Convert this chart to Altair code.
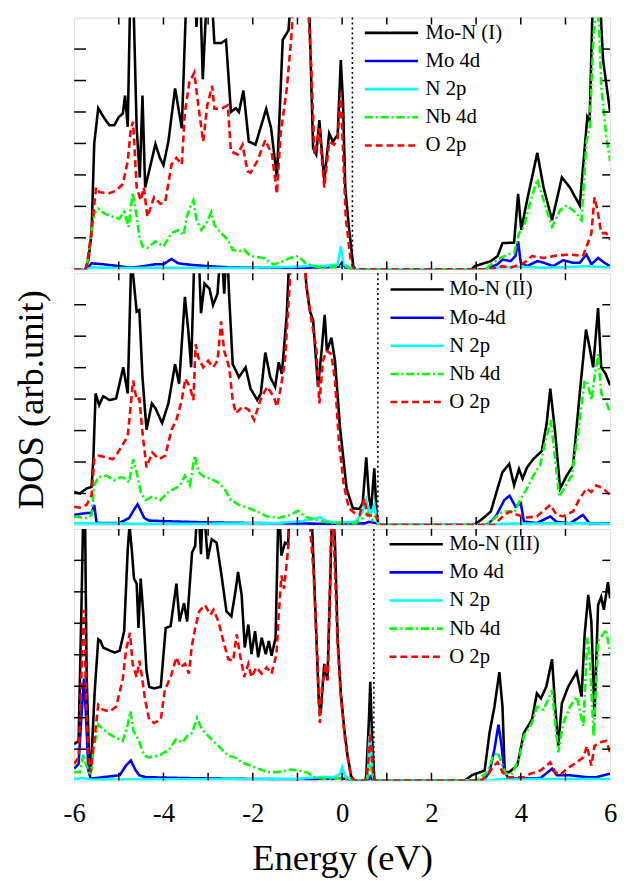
import altair as alt
import pandas as pd

FONT = "Times New Roman, Liberation Serif, Times, serif"

# ---------------- data (Energy eV, DOS arb. unit) ----------------
p1_labels = ["Mo-N (I)", "Mo 4d", "N 2p", "Nb 4d", "O 2p"]
p2_labels = ["Mo-N (II)", "Mo-4d", "N 2p", "Nb 4d", "O 2p"]
p3_labels = ["Mo-N (III)", "Mo 4d", "N 2p", "Nb 4d", "O 2p"]

fermi_levels = [0.23, 0.80, 0.71]

p1_total = [(-6.0,0),(-5.75,0),(-5.68,0.3),(-5.61,1.15),(-5.55,4.0),(-5.46,5.12),(-5.32,4.79),(-5.21,4.58),(-5.10,4.58),(-5.0,4.84),(-4.91,4.95),(-4.86,5.52),(-4.80,4.53),(-4.74,9),(-4.68,9),(-4.60,4.48),(-4.53,2.92),(-4.47,5.52),(-4.41,2.6),(-4.33,3.07),(-4.18,3.98),(-4.08,3.54),(-4.0,3.31),(-3.89,4.06),(-3.74,5.75),(-3.59,4.48),(-3.48,9),(-3.30,9),(-3.26,7.7),(-3.22,9),(-3.18,9),(-3.12,6.04),(-3.02,9),(-2.93,9),(-2.86,7.19),(-2.71,7.19),(-2.60,7.29),(-2.49,5.0),(-2.38,5.12),(-2.31,5.0),(-2.21,5.68),(-2.09,4.06),(-1.94,3.96),(-1.83,4.48),(-1.70,5.10),(-1.59,4.48),(-1.46,2.92),(-1.33,7.29),(-1.20,7.6),(-1.13,9),(-0.80,9),(-0.74,8.5),(-0.65,3.85),(-0.58,3.65),(-0.51,4.74),(-0.40,2.81),(-0.29,4.32),(-0.21,4.06),(-0.10,4.27),(-0.03,6.65),(0.02,5.31),(0.07,2.6),(0.15,1.35),(0.25,0.1),(0.3,0),(2.9,0),(2.97,0.1),(3.33,0.26),(3.48,0.42),(3.59,0.83),(3.85,0.85),(3.94,2.4),(4.01,1.25),(4.14,2.19),(4.37,3.70),(4.51,2.6),(4.70,1.56),(4.92,2.92),(5.10,2.6),(5.32,2.03),(5.49,4.84),(5.54,4.69),(5.62,9),(5.76,9),(5.84,6.67),(6.0,5.0)]
p1_mo4d = [(-6.0,0),(-5.72,0),(-5.61,0.19),(-5.35,0.16),(-4.99,0.1),(-4.77,0.05),(-4.54,0.08),(-4.18,0.16),(-4.0,0.16),(-3.82,0.33),(-3.67,0.19),(-3.37,0.14),(-3.0,0.1),(-2.64,0.07),(-1.9,0.05),(-0.8,0.05),(-0.07,0.08),(-0.01,0.2),(0.08,0.05),(0.25,0),(3.2,0),(3.48,0.16),(3.59,0.31),(3.77,0.26),(3.88,0.42),(3.94,0.89),(4.0,0.21),(4.14,0.1),(4.37,0.26),(4.51,0.21),(4.73,0.1),(4.95,0.29),(5.17,0.21),(5.32,0.21),(5.47,0.47),(5.58,0.16),(5.73,0.36),(5.87,0.21),(6.0,0.1)]
p1_n2p = [(-6.0,0),(-5.72,0),(-5.6,0.06),(-5.0,0.04),(-4.0,0.05),(-3.0,0.04),(-2.0,0.05),(-1.0,0.08),(-0.7,0.12),(-0.45,0.1),(-0.1,0.15),(-0.03,0.73),(0.03,0.15),(0.15,0.08),(0.25,0),(3.3,0),(3.5,0.06),(4.0,0.08),(4.5,0.05),(5.0,0.07),(5.5,0.1),(6.0,0.06)]
p1_nb4d = [(-6.0,0),(-5.75,0),(-5.72,0.05),(-5.61,1.15),(-5.55,1.77),(-5.46,1.93),(-5.32,1.77),(-5.13,1.67),(-4.99,1.61),(-4.88,1.82),(-4.78,1.35),(-4.69,2.45),(-4.61,1.77),(-4.54,1.04),(-4.47,0.73),(-4.36,0.68),(-4.18,0.89),(-4.0,0.73),(-3.82,1.15),(-3.67,1.25),(-3.55,1.09),(-3.48,1.67),(-3.40,1.98),(-3.33,2.19),(-3.26,1.56),(-3.15,1.25),(-3.04,1.46),(-2.93,1.82),(-2.86,1.41),(-2.71,1.15),(-2.56,0.94),(-2.45,0.62),(-2.31,0.57),(-2.20,0.62),(-2.05,0.42),(-1.76,0.36),(-1.54,0.16),(-1.39,0.21),(-1.17,0.36),(-0.98,0.42),(-0.83,0.21),(-0.65,0.1),(-0.43,0.05),(-0.07,0.1),(0.08,0.08),(0.25,0),(3.2,0),(3.48,0.31),(3.70,0.47),(3.85,0.52),(3.96,1.15),(4.07,1.35),(4.22,2.19),(4.37,2.86),(4.51,2.19),(4.70,1.35),(4.88,1.88),(5.03,2.03),(5.25,1.77),(5.36,1.56),(5.47,4.06),(5.54,4.48),(5.63,7.5),(5.70,8.3),(5.75,7.8),(5.80,5.83),(5.91,4.27),(6.0,3.44)]
p1_o2p = [(-6.0,0),(-5.75,0),(-5.72,0.1),(-5.61,1.2),(-5.51,2.6),(-5.43,2.45),(-5.21,2.42),(-5.06,2.5),(-4.91,2.71),(-4.80,3.44),(-4.73,4.48),(-4.68,4.69),(-4.60,2.6),(-4.51,2.19),(-4.44,2.6),(-4.36,1.67),(-4.21,2.29),(-4.07,2.08),(-3.96,2.14),(-3.82,3.33),(-3.71,3.54),(-3.59,3.33),(-3.52,5.0),(-3.42,5.94),(-3.31,6.25),(-3.22,5.21),(-3.11,4.06),(-3.02,5.21),(-2.91,5.83),(-2.86,5.1),(-2.71,5.1),(-2.56,5.21),(-2.49,3.75),(-2.34,3.65),(-2.23,3.96),(-2.12,3.12),(-2.05,3.07),(-1.90,3.44),(-1.72,4.11),(-1.57,3.65),(-1.46,2.4),(-1.38,4.27),(-1.24,5.73),(-1.13,7.5),(-1.08,9),(-0.78,9),(-0.74,7.8),(-0.69,6.35),(-0.62,3.65),(-0.51,4.48),(-0.40,2.6),(-0.29,4.06),(-0.18,3.96),(-0.10,4.17),(-0.03,5.6),(0.02,3.75),(0.08,1.67),(0.19,0.31),(0.25,0.05),(0.3,0),(3.3,0),(3.59,0.1),(3.77,0.05),(4.07,0.2),(4.25,0.42),(4.51,0.36),(4.80,0.44),(5.10,0.47),(5.39,0.42),(5.50,0.83),(5.58,1.15),(5.65,2.29),(5.73,1.77),(5.80,1.15),(5.91,1.15),(6.0,0.94)]

p2_total = [(-6.0,1.05),(-5.87,1.0),(-5.72,1.16),(-5.61,1.21),(-5.57,2.09),(-5.52,4.18),(-5.44,3.81),(-5.35,4.09),(-5.21,3.97),(-5.06,4.02),(-4.95,4.70),(-4.90,5.01),(-4.80,4.18),(-4.73,8.0),(-4.69,8.1),(-4.60,6.78),(-4.54,6.83),(-4.47,4.70),(-4.38,3.03),(-4.26,3.86),(-4.18,3.71),(-4.03,3.24),(-3.89,3.86),(-3.74,5.11),(-3.65,4.49),(-3.52,7.25),(-3.45,6.26),(-3.38,5.01),(-3.30,9),(-3.22,9),(-3.16,6.73),(-3.08,7.67),(-2.97,7.51),(-2.89,6.99),(-2.79,7.35),(-2.71,9),(-2.64,7.35),(-2.58,9),(-2.53,7.30),(-2.45,5.11),(-2.31,4.70),(-2.16,5.01),(-2.05,4.33),(-1.90,3.97),(-1.82,4.18),(-1.72,5.48),(-1.61,4.70),(-1.50,4.39),(-1.42,5.17),(-1.35,4.80),(-1.24,6.68),(-1.17,9),(-0.87,9),(-0.80,7.6),(-0.72,6.78),(-0.65,6.52),(-0.54,4.39),(-0.46,5.53),(-0.39,6.68),(-0.34,5.53),(-0.24,5.95),(-0.16,5.22),(-0.05,3.14),(0.10,1.16),(0.24,0.53),(0.39,0.51),(0.46,0.7),(0.54,2.15),(0.60,0.9),(0.65,0.5),(0.72,1.80),(0.77,0.4),(0.80,0.05),(0.85,0),(2.95,0),(3.12,0.17),(3.33,0.43),(3.48,1.16),(3.59,1.68),(3.74,1.94),(3.85,1.26),(3.96,1.78),(4.04,1.47),(4.14,1.83),(4.28,2.09),(4.47,2.35),(4.58,3.24),(4.66,4.33),(4.77,2.93),(4.88,1.16),(5.03,1.57),(5.17,1.89),(5.32,4.18),(5.46,6.21),(5.54,5.64),(5.62,5.01),(5.73,6.89),(5.80,5.01),(5.90,4.80),(6.0,4.44)]
p2_mo4d = [(-6.0,0.32),(-5.72,0.38),(-5.61,0.38),(-5.55,0.64),(-5.50,0.1),(-5.46,0.06),(-4.99,0.06),(-4.77,0.22),(-4.64,0.53),(-4.58,0.66),(-4.43,0.22),(-4.33,0.14),(-3.74,0.11),(-3.0,0.08),(-1.9,0.06),(-0.5,0.04),(0.5,0.05),(0.6,0.1),(0.8,0.05),(0.85,0),(3.2,0),(3.26,0.02),(3.44,0.27),(3.63,0.79),(3.75,0.93),(3.88,0.58),(4.0,0.69),(4.07,0.11),(4.36,0.06),(4.66,0.27),(4.80,0.1),(5.10,0.05),(5.39,0.32),(5.54,0.05),(6.0,0.05)]
p2_n2p = [(-6.0,0.05),(-5.6,0.05),(-4.6,0.04),(-3.0,0.04),(-1.5,0.06),(-0.9,0.12),(-0.7,0.18),(-0.5,0.25),(-0.4,0.15),(-0.2,0.08),(0.3,0.1),(0.45,0.4),(0.54,0.79),(0.62,0.3),(0.72,0.64),(0.78,0.1),(0.83,0),(3.3,0),(3.6,0.04),(4.5,0.05),(5.5,0.05),(6.0,0.04)]
p2_nb4d = [(-6.0,0.27),(-5.72,0.22),(-5.61,0.32),(-5.55,1.26),(-5.46,1.52),(-5.28,1.57),(-5.10,1.42),(-4.95,1.52),(-4.84,1.47),(-4.77,1.36),(-4.68,2.09),(-4.60,1.68),(-4.51,1.05),(-4.40,0.79),(-4.25,0.90),(-4.07,0.79),(-3.89,1.05),(-3.74,1.16),(-3.63,1.26),(-3.52,1.57),(-3.41,1.26),(-3.30,2.20),(-3.22,1.68),(-3.08,1.52),(-2.93,1.47),(-2.79,1.36),(-2.64,1.16),(-2.49,0.79),(-2.31,0.64),(-2.12,0.55),(-1.90,0.43),(-1.68,0.27),(-1.42,0.22),(-1.17,0.32),(-0.98,0.45),(-0.84,0.27),(-0.62,0.17),(-0.43,0.11),(-0.21,0.06),(0.3,0.05),(0.46,0.22),(0.57,0.38),(0.68,0.15),(0.76,0.3),(0.83,0),(3.2,0),(3.33,0.11),(3.55,0.38),(3.70,0.43),(3.85,0.38),(4.0,0.84),(4.14,1.16),(4.28,1.57),(4.43,1.89),(4.56,2.72),(4.67,3.34),(4.77,2.09),(4.86,0.90),(4.99,1.21),(5.14,1.57),(5.28,2.93),(5.43,4.59),(5.50,4.49),(5.58,3.97),(5.65,4.70),(5.73,5.43),(5.80,4.18),(5.90,3.97),(6.0,3.55)]
p2_o2p = [(-6.0,0.58),(-5.87,0.55),(-5.72,0.64),(-5.61,0.95),(-5.55,2.09),(-5.46,2.2),(-5.28,2.15),(-5.13,2.09),(-5.02,2.30),(-4.91,2.56),(-4.80,2.82),(-4.73,3.86),(-4.68,4.59),(-4.60,3.97),(-4.54,4.02),(-4.47,2.93),(-4.38,1.83),(-4.25,2.30),(-4.10,2.09),(-3.96,2.20),(-3.82,3.03),(-3.71,3.34),(-3.59,3.97),(-3.51,4.65),(-3.41,4.39),(-3.33,3.97),(-3.28,5.74),(-3.22,5.32),(-3.11,5.01),(-3.0,5.22),(-2.89,5.01),(-2.79,5.22),(-2.71,6.47),(-2.64,5.53),(-2.53,5.01),(-2.45,3.97),(-2.38,3.55),(-2.23,3.76),(-2.09,3.66),(-1.97,3.34),(-1.83,3.97),(-1.68,4.39),(-1.53,4.07),(-1.46,3.76),(-1.37,4.39),(-1.28,5.22),(-1.18,7.51),(-1.13,9),(-0.87,9),(-0.80,7.6),(-0.69,6.52),(-0.58,5.64),(-0.51,3.86),(-0.43,5.22),(-0.35,5.53),(-0.24,5.43),(-0.16,4.59),(-0.07,2.61),(0.04,1.26),(0.15,0.53),(0.26,0.40),(0.39,0.32),(0.50,0.84),(0.57,0.3),(0.68,0.3),(0.76,0.3),(0.83,0),(3.4,0),(3.63,0.32),(3.77,0.43),(3.92,0.32),(4.14,0.24),(4.36,0.27),(4.66,0.64),(4.80,0.32),(4.95,0.27),(5.17,0.43),(5.32,0.84),(5.47,1.16),(5.58,1.05),(5.69,1.26),(5.84,1.16),(6.0,0.95)]

p3_total = [(-6.0,1.16),(-5.90,1.26),(-5.83,5.95),(-5.79,9),(-5.76,9),(-5.72,3.34),(-5.66,0.43),(-5.63,0.27),(-5.59,1.36),(-5.54,2.82),(-5.46,4.49),(-5.41,4.44),(-5.35,4.23),(-5.20,4.13),(-5.09,4.07),(-4.98,4.13),(-4.88,4.75),(-4.80,7.35),(-4.76,8.1),(-4.71,7.35),(-4.66,6.42),(-4.60,6.26),(-4.56,4.85),(-4.51,6.42),(-4.45,5.27),(-4.38,3.50),(-4.32,2.98),(-4.21,2.93),(-4.06,2.98),(-3.95,4.85),(-3.84,4.91),(-3.71,6.26),(-3.64,5.06),(-3.54,5.64),(-3.47,5.06),(-3.36,7.25),(-3.29,7.46),(-3.23,9),(-3.16,7.20),(-3.11,9),(-3.01,7.04),(-2.92,7.67),(-2.81,7.56),(-2.70,6.52),(-2.59,5.38),(-2.48,5.22),(-2.39,6.0),(-2.33,6.63),(-2.25,5.90),(-2.18,4.23),(-2.10,4.96),(-2.03,4.02),(-1.95,4.75),(-1.88,3.92),(-1.80,4.54),(-1.71,4.02),(-1.64,4.44),(-1.58,3.97),(-1.49,4.54),(-1.42,9),(-1.36,7.15),(-1.28,7.56),(-1.21,7.51),(-1.17,9),(-0.75,9),(-0.67,8.0),(-0.59,5.06),(-0.52,2.46),(-0.48,2.15),(-0.40,3.71),(-0.33,3.19),(-0.27,6.10),(-0.22,9),(-0.16,7.56),(-0.10,4.5),(-0.03,2.8),(0.05,1.6),(0.12,0.8),(0.20,0.15),(0.26,0.03),(0.3,0),(0.52,0),(0.54,0.17),(0.60,1.94),(0.63,3.14),(0.67,1.42),(0.72,0.06),(0.75,0),(2.75,0),(2.90,0.17),(3.19,0.32),(3.30,1.52),(3.41,2.35),(3.52,3.45),(3.59,2.35),(3.64,0.27),(3.74,0.27),(3.92,0.48),(4.07,1.52),(4.25,1.94),(4.36,2.77),(4.45,2.61),(4.57,2.98),(4.70,3.86),(4.77,2.35),(4.84,1.10),(4.92,2.46),(5.06,2.98),(5.25,3.45),(5.36,2.67),(5.43,4.65),(5.51,5.90),(5.58,5.06),(5.65,2.04),(5.73,5.58),(5.80,5.84),(5.86,5.43),(5.95,6.31),(6.0,5.79)]
p3_mo4d = [(-6.0,0.38),(-5.90,0.53),(-5.83,2.20),(-5.78,3.24),(-5.74,2.20),(-5.68,0.32),(-5.63,0.06),(-5.35,0.11),(-4.98,0.17),(-4.84,0.48),(-4.73,0.64),(-4.62,0.32),(-4.54,0.17),(-4.40,0.11),(-3.5,0.08),(-2.6,0.06),(-1.0,0.04),(0.04,0.06),(0.3,0),(0.58,0),(0.63,0.12),(0.68,0),(3.1,0),(3.19,0.06),(3.30,0.27),(3.41,1.0),(3.50,1.78),(3.57,1.1),(3.63,0.27),(3.74,0.06),(4.44,0.08),(4.70,0.38),(4.81,0.17),(5.10,0.17),(5.47,0.11),(5.69,0.11),(6.0,0.22)]
p3_n2p = [(-6.0,0.05),(-5.8,0.08),(-5.6,0.03),(-4.0,0.04),(-2.0,0.05),(-1.0,0.06),(-0.6,0.1),(-0.4,0.12),(-0.2,0.1),(-0.05,0.2),(0.0,0.43),(0.06,0.15),(0.2,0.03),(0.3,0),(0.55,0),(0.58,0.3),(0.61,1.42),(0.64,1.2),(0.68,0.2),(0.72,0),(3.3,0),(3.5,0.04),(4.5,0.05),(5.5,0.05),(6.0,0.05)]
p3_nb4d = [(-6.0,0.27),(-5.87,0.27),(-5.79,0.84),(-5.74,0.53),(-5.68,0.32),(-5.63,0.17),(-5.57,0.95),(-5.46,1.78),(-5.35,1.63),(-5.20,1.47),(-5.06,1.36),(-4.91,1.26),(-4.80,1.78),(-4.74,2.20),(-4.67,1.57),(-4.60,1.42),(-4.51,1.10),(-4.43,0.79),(-4.32,0.74),(-4.10,0.79),(-3.87,1.0),(-3.72,1.31),(-3.57,1.21),(-3.47,1.42),(-3.36,1.52),(-3.25,1.99),(-3.14,1.63),(-3.0,1.42),(-2.85,1.21),(-2.70,1.0),(-2.55,0.79),(-2.40,0.74),(-2.25,0.58),(-2.06,0.48),(-1.88,0.38),(-1.66,0.27),(-1.44,0.27),(-1.14,0.35),(-0.99,0.32),(-0.80,0.27),(-0.62,0.11),(-0.40,0.06),(-0.10,0.06),(0.2,0.03),(0.3,0),(0.55,0),(0.60,0.3),(0.63,0.5),(0.67,0.2),(0.72,0),(3.0,0),(3.26,0.27),(3.37,0.74),(3.48,0.90),(3.59,0.48),(3.66,0.22),(3.81,0.22),(3.96,0.69),(4.07,1.42),(4.25,1.83),(4.36,2.35),(4.51,2.25),(4.70,2.88),(4.77,1.83),(4.84,0.90),(4.95,1.83),(5.10,2.35),(5.25,2.67),(5.40,1.73),(5.49,4.54),(5.54,4.02),(5.63,1.42),(5.73,4.44),(5.84,4.65),(5.91,4.80),(6.0,4.02)]
p3_o2p = [(-6.0,0.53),(-5.90,0.74),(-5.85,2.82),(-5.79,5.43),(-5.76,4.70),(-5.74,2.82),(-5.68,0.74),(-5.63,0.27),(-5.56,1.16),(-5.46,2.41),(-5.35,2.25),(-5.20,2.2),(-5.06,2.35),(-4.91,3.24),(-4.84,4.13),(-4.75,4.70),(-4.69,3.71),(-4.60,3.29),(-4.54,3.81),(-4.48,3.29),(-4.41,2.56),(-4.32,1.94),(-4.21,1.83),(-4.06,1.94),(-3.97,2.88),(-3.84,3.29),(-3.71,3.92),(-3.62,3.60),(-3.52,3.71),(-3.43,3.40),(-3.37,4.23),(-3.29,4.85),(-3.20,5.38),(-3.07,5.58),(-2.95,5.27),(-2.88,5.43),(-2.77,5.06),(-2.66,4.44),(-2.55,3.86),(-2.44,3.81),(-2.36,4.65),(-2.29,4.02),(-2.19,3.29),(-2.10,3.71),(-2.03,3.29),(-1.92,3.60),(-1.80,3.40),(-1.69,3.60),(-1.58,3.40),(-1.47,4.02),(-1.42,5.27),(-1.36,6.52),(-1.30,6.10),(-1.21,7.35),(-1.16,9),(-0.75,9),(-0.71,7.9),(-0.64,6.63),(-0.56,4.02),(-0.50,1.83),(-0.45,2.98),(-0.37,3.71),(-0.32,3.19),(-0.26,7.15),(-0.22,9),(-0.16,6.63),(-0.10,4.3),(-0.03,2.7),(0.05,1.5),(0.12,0.75),(0.20,0.12),(0.26,0.02),(0.3,0),(0.54,0),(0.60,0.8),(0.63,1.52),(0.67,0.6),(0.72,0.03),(0.75,0),(3.1,0),(3.26,0.17),(3.37,0.43),(3.48,0.58),(3.59,0.27),(3.70,0.11),(4.07,0.11),(4.22,0.22),(4.44,0.32),(4.66,0.58),(4.77,0.27),(4.88,0.17),(5.03,0.38),(5.25,0.58),(5.40,0.74),(5.48,1.10),(5.58,0.48),(5.65,1.10),(5.76,1.21),(5.91,1.26),(6.0,0.90)]

x_label_values = [-6, -4, -2, 0, 2, 4, 6]
x_tick_values = [-5, -4, -3, -2, -1, 0, 1, 2, 3, 4, 5]
y_tick_values = [1, 2, 3, 4, 5, 6, 7]

series_colors = ["#000000", "#0000ff", "#00ffff", "#00ff00", "#ff0000"]
series_dashes = [[1, 0], [1, 0], [1, 0], [8, 3, 2, 3], [7, 4]]

W, H = 543, 255


def build_panel(labels, series, fermi, legend_x, legend_y, label_offset, mid, bottom):
    frames = []
    for lab, pts in zip(labels, series):
        frames.append(pd.DataFrame({"E": [p[0] for p in pts],
                                    "DOS": [p[1] for p in pts],
                                    "series": lab}))
    df = pd.concat(frames, ignore_index=True)

    xscale = alt.Scale(domain=[-6, 6], nice=False, zero=False)
    yscale = alt.Scale(domain=[0, 8], nice=False, zero=False)

    if bottom:
        xaxis = alt.Axis(values=x_label_values, labelExpr="'' + datum.value",
                         ticks=False, domain=False, grid=False,
                         labelFontSize=27, labelColor="black",
                         labelPadding=20, labelFlush=False, labelOverlap=False,
                         title="Energy (eV)", titleFontSize=37,
                         titleFontWeight="normal", titleColor="black", titlePadding=15)
    else:
        xaxis = None
    if mid:
        yaxis = alt.Axis(title="DOS (arb.unit)", labels=False, ticks=False,
                         domain=False, grid=False, titleFontSize=37,
                         titleFontWeight="normal", titleColor="black", titlePadding=24)
    else:
        yaxis = None

    legend = alt.Legend(orient="none", legendX=legend_x, legendY=legend_y, title=None,
                        symbolType="M-5.4,0H5.4", symbolSize=100, symbolStrokeWidth=2.6,
                        symbolOffset=0, labelOffset=label_offset,
                        labelFontSize=21, labelColor="black",
                        labelLimit=300, rowPadding=6.5, padding=0)

    X = lambda: alt.X("E:Q", scale=xscale, axis=xaxis)
    Y = lambda: alt.Y("DOS:Q", scale=yscale, axis=yaxis)

    lines = alt.Chart(df).mark_line(strokeWidth=2.6, clip=True).encode(
        x=X(), y=Y(),
        color=alt.Color("series:N", scale=alt.Scale(domain=labels, range=series_colors),
                        legend=legend),
        strokeDash=alt.StrokeDash("series:N",
                                  scale=alt.Scale(domain=labels, range=series_dashes),
                                  legend=legend),
    )

    fermi_df = pd.DataFrame({"E": [fermi]})
    fermi_rule = alt.Chart(fermi_df).mark_rule(color="black", strokeDash=[2, 3],
                                               strokeWidth=1.6).encode(
        x=X(), y=alt.value(0), y2=alt.value(H))

    xt = pd.DataFrame({"E": x_tick_values})
    yt = pd.DataFrame({"DOS": y_tick_values})
    tick_style = dict(color="black", strokeWidth=1.5)
    bottom_ticks = alt.Chart(xt).mark_rule(**tick_style).encode(
        x=X(), y=alt.value(H), y2=alt.value(H - 8))
    top_ticks = alt.Chart(xt).mark_rule(**tick_style).encode(
        x=X(), y=alt.value(0), y2=alt.value(7))
    left_ticks = alt.Chart(yt).mark_rule(**tick_style).encode(
        y=Y(), x=alt.value(0), x2=alt.value(12))
    right_ticks = alt.Chart(yt).mark_rule(**tick_style).encode(
        y=Y(), x=alt.value(W), x2=alt.value(W - 8))

    return alt.layer(lines, fermi_rule, bottom_ticks, top_ticks, left_ticks,
                     right_ticks).properties(width=W, height=H)


panel1 = build_panel(p1_labels, [p1_total, p1_mo4d, p1_n2p, p1_nb4d, p1_o2p],
                     fermi_levels[0], 311, 5, 24, False, False)
panel2 = build_panel(p2_labels, [p2_total, p2_mo4d, p2_n2p, p2_nb4d, p2_o2p],
                     fermi_levels[1], 337, 6, 22, True, False)
panel3 = build_panel(p3_labels, [p3_total, p3_mo4d, p3_n2p, p3_nb4d, p3_o2p],
                     fermi_levels[2], 336, 5, 23, False, True)

chart = alt.vconcat(panel1, panel2, panel3, spacing=0).resolve_scale(
    color="independent", strokeDash="independent"
).resolve_legend(
    color="independent", strokeDash="independent"
).properties(
    padding={"left": 4, "top": 2, "right": 2, "bottom": 0}
).configure_view(stroke="black", strokeWidth=1.5).configure_legend(
    labelFont=FONT, labelFontSize=21, labelColor="black"
).configure_axis(
    labelFont=FONT, titleFont=FONT
).configure_text(font=FONT).configure(font=FONT)

chart.save("out.html", embed_options={"renderer": "svg", "actions": False})
